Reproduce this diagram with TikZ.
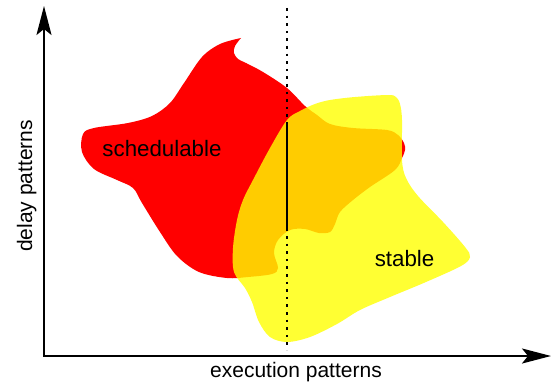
\documentclass[tikz,border=0pt]{standalone}
\usepackage{fontspec}
\setmainfont{Liberation Sans}
\usetikzlibrary{arrows.meta}
\definecolor{redset}{RGB}{255,0,0}
\definecolor{yellowset}{RGB}{255,255,0}
\begin{document}
\begin{tikzpicture}[x=1pt,y=-1pt,
  axis/.style={line width=2pt,-{Stealth[length=29pt,width=15pt,inset=6pt]}},
  lbl/.style={font=\fontsize{21}{25}\selectfont,inner sep=0pt,anchor=base,text=black},
  biglbl/.style={lbl,font=\fontsize{22.3}{26}\selectfont},
  dotline/.style={line width=2.6pt,dash pattern=on 2.6pt off 5pt},
  solidline/.style={line width=2.2pt}]
\useasboundingbox (0,0) rectangle (553,385);
% red region
\fill[redset] plot[smooth,tension=0.55] coordinates {
(241,38) (235,46) (234,53) (238,59) (246,63) (263,72) (287,88) (305,106) (317,115) (330,124) (353,128) (387,130) (398,135) (404,143) (405,150) (402,158) (395,170) (370,187) (353,200) (340,212) (335,224) (330,232) (319,233) (305,229) (290,230) (278,240) (274,253) (278,268) (272,274) (248,277) (227,278) (199,272) (177,256) (160,232) (142,203) (133,188) (117,180) (94,169) (82,152) (83,134) (94,128) (128,123) (152,116) (170,103) (184,83) (202,57) (220,44) (241,38)} -- cycle;
% yellow region
\fill[yellowset,opacity=0.8] plot[smooth cycle,tension=0.55] coordinates {
(287,120) (270,148) (253,180) (243,200) (237,220) (233,248) (234,272) (245,288) (252,302) (259,322) (270,337) (287,342) (310,337) (337,324) (360,310) (390,297) (426,282) (461,266) (470,257) (465,247) (443,222) (418,196) (406,178) (402,160) (402,120) (400,104) (396,97) (388,95) (355,97) (330,100) (315,104) (300,111)};
% axes
\coordinate (origin) at (44,356);
\coordinate (ytop) at (44,6);
\coordinate (xend) at (551,356);
\coordinate (xstart) at (43,356);
\draw[axis] (origin) -- (ytop);
\draw[axis] (xstart) -- (xend);
% vertical lines
\coordinate (dtop) at (287,8);
\coordinate (dbot) at (287,350);
\coordinate (stop) at (287,122);
\coordinate (sbot) at (287,230);
\draw[dotline] (dtop) -- (dbot);
\draw[solidline] (stop) -- (sbot);
% labels
\node[biglbl] (sched) at (162,156.7) {schedulable};
\node[biglbl] (stable) at (404.5,266) {stable};
\node[lbl] (xlab) at (296,377.5) {execution patterns};
\node[lbl,rotate=90] (ylab) at (32,186) {delay patterns};
\end{tikzpicture}
\end{document}
